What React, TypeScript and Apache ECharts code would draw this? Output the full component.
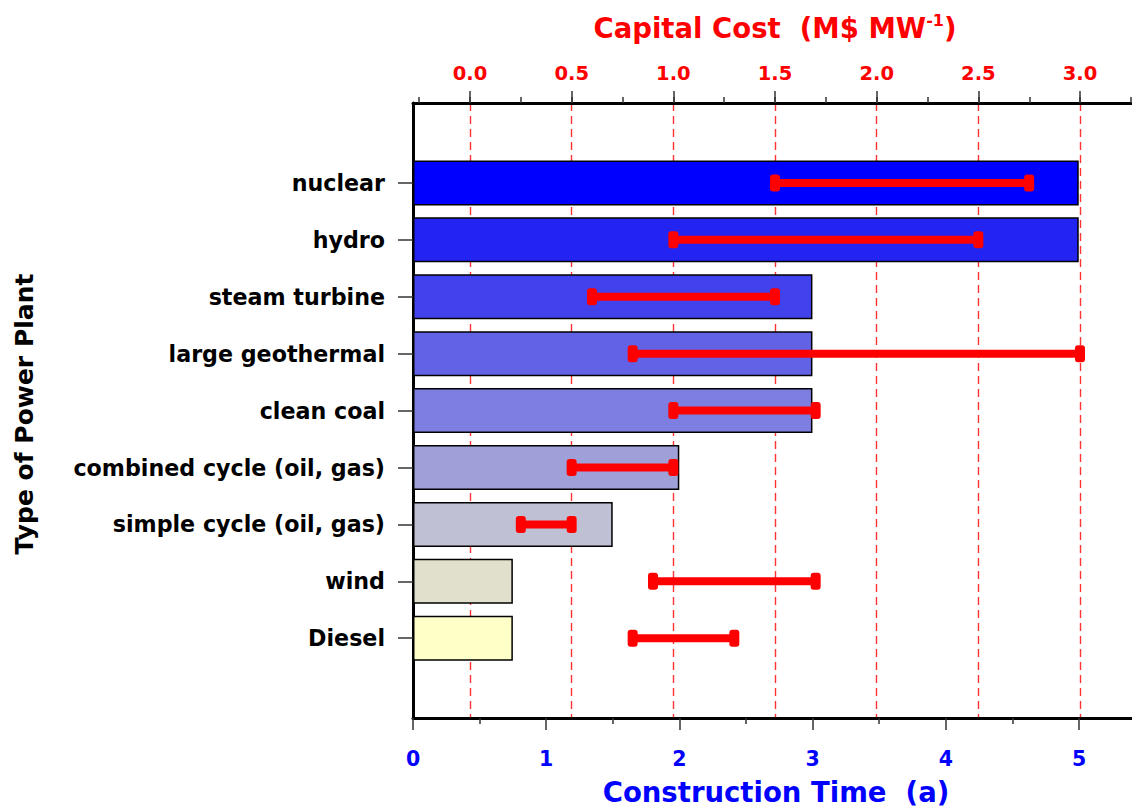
import React, { useEffect, useRef } from 'react';
import * as echarts from 'echarts';

// ---- data ----
const categories = [
  'nuclear',
  'hydro',
  'steam turbine',
  'large geothermal',
  'clean coal',
  'combined cycle (oil, gas)',
  'simple cycle (oil, gas)',
  'wind',
  'Diesel',
];
const constructionTime = [5, 5, 3, 3, 3, 2, 1.5, 0.75, 0.75];
const capitalCostLow = [1.5, 1.0, 0.6, 0.8, 1.0, 0.5, 0.25, 0.9, 0.8];
const capitalCostHigh = [2.75, 2.5, 1.5, 3.0, 1.7, 1.0, 0.5, 1.7, 1.3];
const barColors = ['#0000ff', '#2424f2', '#4242ec', '#6262e6', '#7e7ee0', '#a0a0d8', '#c0c0d4', '#e0e0cc', '#ffffc8'];
const timeTicks = { min: 0, max: 5, interval: 1 };
const costTicks = { min: 0, max: 3, interval: 0.5 };

const FONT = 'DejaVu Sans';
const TICK_STYLE = { color: '#333', width: 1.5 };

const hiddenValue = (gridIndex: number, extra: any = {}) => ({
  gridIndex,
  type: 'value',
  show: false,
  axisLine: { show: false, onZero: false },
  splitLine: { show: false },
  ...extra,
});

export default function App() {
  const ref = useRef<HTMLDivElement>(null);
  useEffect(() => {
    if (!ref.current) return;
    const chart = echarts.init(ref.current, undefined, { renderer: 'svg' });
    const frameLine = { show: true, onZero: false, lineStyle: { color: '#000', width: 3 } };
    const option: any = {
      animation: false,
      backgroundColor: '#fff',
      grid: [
        { left: 413, right: 0, top: 103, bottom: 89 }, // 0 frame
        { left: 413, right: 0, top: 154.5, bottom: 140.3 }, // 1 bars + error bars
        { left: 419, right: 1, top: 103, bottom: 89 }, // 2 top minor ticks
        { left: 470, right: 52, top: 103, bottom: 89 }, // 3 top major ticks, labels, dashed lines
        { left: 413, right: 53, top: 103, bottom: 89 }, // 4 bottom ticks and labels
      ],
      xAxis: [
        { gridIndex: 0, type: 'value', position: 'bottom', min: 0, max: 1, axisLine: frameLine, axisTick: { show: false }, axisLabel: { show: false }, splitLine: { show: false } },
        { gridIndex: 0, type: 'value', position: 'top', min: 0, max: 1, axisLine: frameLine, axisTick: { show: false }, axisLabel: { show: false }, splitLine: { show: false } },
        hiddenValue(1, { min: 0, max: 5.4 }),
        hiddenValue(1, { min: -0.2803, max: 3.2558 }),
        {
          gridIndex: 2, type: 'value', position: 'top', min: -0.25, max: 3.25, interval: 0.25,
          axisLine: { show: false, onZero: false },
          axisTick: { show: true, length: 6, lineStyle: TICK_STYLE },
          axisLabel: { show: false }, splitLine: { show: false },
        },
        {
          gridIndex: 3, type: 'value', position: 'top', min: costTicks.min, max: costTicks.max, interval: costTicks.interval,
          axisLine: { show: false, onZero: false },
          axisTick: { show: true, length: 12, lineStyle: TICK_STYLE },
          axisLabel: {
            show: true, color: '#ff0000', fontWeight: 'bold', fontSize: 19.5, fontFamily: FONT, margin: 20,
            formatter: (v: number) => v.toFixed(1),
          },
          splitLine: { show: true, lineStyle: { color: '#ff3333', type: [8, 5], width: 1.4 } },
        },
        {
          gridIndex: 4, type: 'value', position: 'bottom', min: timeTicks.min, max: timeTicks.max, interval: timeTicks.interval,
          axisLine: { show: false, onZero: false },
          axisTick: { show: true, length: 12, lineStyle: TICK_STYLE },
          minorTick: { show: true, splitNumber: 2, length: 6, lineStyle: TICK_STYLE },
          axisLabel: { show: true, color: '#0000ff', fontWeight: 'bold', fontSize: 20.5, fontFamily: FONT, margin: 30 },
          splitLine: { show: false },
        },
      ],
      yAxis: [
        { gridIndex: 0, type: 'value', min: 0, max: 1, axisLine: frameLine, axisTick: { show: false }, axisLabel: { show: false }, splitLine: { show: false } },
        {
          gridIndex: 1, type: 'category', data: categories, inverse: true,
          axisLine: { show: false, onZero: false },
          axisTick: { show: true, alignWithLabel: true, length: 15, lineStyle: TICK_STYLE },
          axisLabel: { color: '#000', fontWeight: 'bold', fontSize: 22.2, fontFamily: FONT, margin: 28 },
          splitLine: { show: false },
        },
        hiddenValue(2, { min: 0, max: 1 }),
        hiddenValue(3, { min: 0, max: 1 }),
        hiddenValue(4, { min: 0, max: 1 }),
      ],
      series: [
        {
          type: 'bar',
          xAxisIndex: 2,
          yAxisIndex: 1,
          barWidth: 45,
          z: 2,
          itemStyle: { borderColor: '#000', borderWidth: 1.5 },
          data: constructionTime.map((v, i) => ({ value: v, itemStyle: { color: barColors[i] } })),
        },
        {
          type: 'custom',
          xAxisIndex: 3,
          yAxisIndex: 1,
          z: 5,
          clip: false,
          encode: { x: [0, 1], y: 2 },
          data: categories.map((_, i) => [capitalCostLow[i], capitalCostHigh[i], i]),
          renderItem: (params: any, api: any) => {
            const lo = api.coord([api.value(0), api.value(2)]);
            const hi = api.coord([api.value(1), api.value(2)]);
            const red = '#ff0000';
            const cap = (p: number[]) => ({
              type: 'rect',
              shape: { x: p[0] - 5, y: p[1] - 8.5, width: 10, height: 17, r: 3 },
              style: { fill: red },
            });
            return {
              type: 'group',
              children: [
                { type: 'line', shape: { x1: lo[0], y1: lo[1], x2: hi[0], y2: hi[1] }, style: { stroke: red, lineWidth: 8 } },
                cap(lo),
                cap(hi),
              ],
            };
          },
        },
      ],
      graphic: [
        {
          type: 'text', x: 24, y: 414, rotation: Math.PI / 2,
          style: {
            text: 'Type of Power Plant', fill: '#000', fontSize: 25, fontWeight: 'bold', fontFamily: FONT,
            textAlign: 'center', textVerticalAlign: 'middle', align: 'center', verticalAlign: 'middle',
          },
        },
        {
          type: 'text', x: 776, y: 792,
          style: {
            text: 'Construction Time  (a)', fill: '#0000ff', fontSize: 27.5, fontWeight: 'bold', fontFamily: FONT,
            textAlign: 'center', textVerticalAlign: 'middle', align: 'center', verticalAlign: 'middle',
          },
        },
        {
          type: 'text', x: 775, y: 27.5,
          style: {
            text: '{a|Capital Cost  (M$ MW}{s|-1}{a|)}',
            rich: {
              a: { fontSize: 27.5, fontWeight: 'bold', fontFamily: FONT, fill: '#ff0000', color: '#ff0000', lineHeight: 30 },
              s: { fontSize: 16, fontWeight: 'bold', fontFamily: FONT, fill: '#ff0000', color: '#ff0000', lineHeight: 16, verticalAlign: 'top' },
            },
            fill: '#ff0000',
            textAlign: 'center', textVerticalAlign: 'middle', align: 'center', verticalAlign: 'middle',
          },
        },
      ],
    };
    chart.setOption(option);
    return () => chart.dispose();
  }, []);
  return <div ref={ref} style={{ position: 'fixed', left: 0, top: 0, width: 1132, height: 807 }} />;
}
